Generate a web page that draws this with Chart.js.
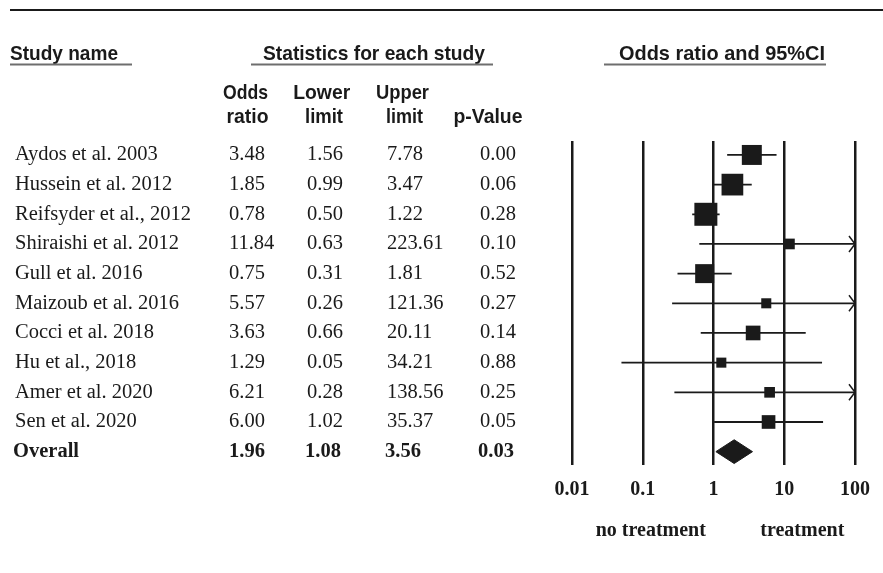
<!DOCTYPE html>
<html>
<head>
<meta charset="utf-8">
<script src="https://cdn.jsdelivr.net/npm/chart.js@4.4.1/dist/chart.umd.min.js"></script>
<style>
    html, body { margin: 0; padding: 0; background: #fff; }
</style>
</head>
<body>
<canvas id="forest" width="883" height="573"></canvas>
<script>
// values
var studies = ['Aydos et al. 2003', 'Hussein et al. 2012', 'Reifsyder et al., 2012', 'Shiraishi et al. 2012',
    'Gull et al. 2016', 'Maizoub et al. 2016', 'Cocci et al. 2018', 'Hu et al., 2018', 'Amer et al. 2020', 'Sen et al. 2020'];
var oddsRatio = [3.48, 1.85, 0.78, 11.84, 0.75, 5.57, 3.63, 1.29, 6.21, 6.00];
var lowerLimit = [1.56, 0.99, 0.50, 0.63, 0.31, 0.26, 0.66, 0.05, 0.28, 1.02];
var upperLimit = [7.78, 3.47, 1.22, 223.61, 1.81, 121.36, 20.11, 34.21, 138.56, 35.37];
var pValues = ['0.00', '0.06', '0.28', '0.10', '0.52', '0.27', '0.14', '0.88', '0.25', '0.05'];
// relative weight (%)
var weights = [15.4, 18.2, 20.4, 4.4, 13.9, 3.9, 8.3, 3.9, 4.4, 7.2];

var overallName = 'Overall';
var overallOR = 1.96;
var overallLower = 1.08;
var overallUpper = 3.56;
var overallP = '0.03';

var axisValues = [0.01, 0.1, 1, 10, 100];
var axisLabels = ['0.01', '0.1', '1', '10', '100'];
var sideLabels = ['no treatment', 'treatment'];
var sideValues = [0.13, 18];

var ink = '#1a1a1a';

function buildSquares() {
    var pts = [];
    var radios = [];
    for (let i = 0; i < studies.length; i++) {
        pts.push({ x: oddsRatio[i], y: i });
        // box side grows with sqrt(weight)
        radios.push(5.09 * Math.sqrt(weights[i]) / Math.SQRT2);
    }
    return { pts: pts, radios: radios };
}

function buildIntervals() {
    var pts = [];
    for (let i = 0; i < studies.length; i++) {
        pts.push({ x: lowerLimit[i], y: i });
        pts.push({ x: upperLimit[i], y: i });
        pts.push({ x: null, y: null });
    }
    return pts;
}

function buildDiamond() {
    var row = studies.length;
    return [
        { x: overallLower, y: row },
        { x: overallOR, y: row - 0.4 },
        { x: overallUpper, y: row },
        { x: overallOR, y: row + 0.4 },
        { x: overallLower, y: row }
    ];
}

function condensed(ctx, text, x, y, w, align) {
    ctx.textAlign = align || 'left';
    ctx.fillText(text, x, y, w);
}

var tablePlugin = {
    id: 'tabla',
    afterDraw: function (chart) {
        var ctx = chart.ctx;
        var ys = chart.scales.y;
        var xs = chart.scales.x;
        ctx.save();
        ctx.fillStyle = ink;
        ctx.textBaseline = 'alphabetic';

        // top rule
        ctx.fillRect(10, 9, 873, 2);

        // group headers
        ctx.font = 'bold 21px "Liberation Sans", Arial, sans-serif';
        condensed(ctx, 'Study name', 10, 60, 108);
        condensed(ctx, 'Statistics for each study', 263, 60, 222);
        condensed(ctx, 'Odds ratio and 95%CI', 619, 60, 206);
        ctx.fillStyle = '#6e6e6e';
        ctx.fillRect(10, 63.5, 122, 2);
        ctx.fillRect(251, 63.5, 242, 2);
        ctx.fillRect(604, 63.5, 222, 2);
        ctx.fillStyle = ink;

        // column headers
        condensed(ctx, 'Odds', 245.5, 99, 45, 'center');
        condensed(ctx, 'ratio', 247.5, 123, 42, 'center');
        condensed(ctx, 'Lower', 321.7, 99, 57, 'center');
        condensed(ctx, 'limit', 324, 123, 38, 'center');
        condensed(ctx, 'Upper', 402.5, 99, 53, 'center');
        condensed(ctx, 'limit', 404.5, 123, 37, 'center');
        condensed(ctx, 'p-Value', 488, 123, 69, 'center');

        // study rows
        ctx.textAlign = 'left';
        ctx.font = '20.5px "Liberation Serif", "Times New Roman", serif';
        for (let i = 0; i < studies.length; i++) {
            let yy = ys.getPixelForValue(i) + 5.5;
            ctx.fillText(studies[i], 15, yy);
            ctx.fillText(oddsRatio[i].toFixed(2), 229, yy);
            ctx.fillText(lowerLimit[i].toFixed(2), 307, yy);
            ctx.fillText(upperLimit[i].toFixed(2), 387, yy);
            ctx.fillText(pValues[i], 480, yy);
        }
        ctx.font = 'bold 20.5px "Liberation Serif", "Times New Roman", serif';
        let yo = ys.getPixelForValue(studies.length) + 5.5;
        ctx.fillText(overallName, 13, yo);
        ctx.fillText(overallOR.toFixed(2), 229, yo);
        ctx.fillText(overallLower.toFixed(2), 305, yo);
        ctx.fillText(overallUpper.toFixed(2), 385, yo);
        ctx.fillText(overallP, 478, yo);

        // favours labels under the axis
        ctx.textAlign = 'center';
        ctx.font = 'bold 20px "Liberation Serif", "Times New Roman", serif';
        for (let k = 0; k < sideLabels.length; k++) {
            ctx.fillText(sideLabels[k], xs.getPixelForValue(sideValues[k]), 536);
        }
        ctx.restore();
    },
    afterDatasetsDraw: function (chart) {
        // arrow heads where the interval runs past the axis
        var ctx = chart.ctx;
        var xs = chart.scales.x;
        var ys = chart.scales.y;
        var xr = xs.getPixelForValue(xs.max);
        ctx.save();
        ctx.strokeStyle = ink;
        ctx.lineWidth = 1.5;
        for (let i = 0; i < studies.length; i++) {
            if (upperLimit[i] > xs.max) {
                let yy = ys.getPixelForValue(i);
                ctx.beginPath();
                ctx.moveTo(xr - 6, yy - 8);
                ctx.lineTo(xr, yy);
                ctx.lineTo(xr - 6, yy + 8);
                ctx.stroke();
            }
        }
        ctx.restore();
    }
};

function drawForest() {
    var canvas = document.getElementById('forest');
    var sq = buildSquares();

    var chart = new Chart(canvas, {
        type: 'scatter',
        data: {
            datasets: [{
                label: 'Odds ratio',
                data: sq.pts,
                pointStyle: 'rect',
                pointRadius: sq.radios,
                pointHoverRadius: sq.radios,
                backgroundColor: ink,
                borderWidth: 0
            }, {
                type: 'line',
                label: '95% CI',
                data: buildIntervals(),
                borderColor: ink,
                borderWidth: 1.8,
                pointRadius: 0,
                tension: 0,
                spanGaps: false,
                fill: false
            }, {
                type: 'line',
                label: 'Overall',
                data: buildDiamond(),
                borderColor: ink,
                backgroundColor: ink,
                borderWidth: 1,
                pointRadius: 0,
                tension: 0,
                fill: 'shape'
            }]
        },
        options: {
            responsive: false,
            animation: false,
            events: [],
            layout: { padding: { left: 572, right: 27, top: 141, bottom: 68 } },
            plugins: {
                legend: { display: false },
                title: { display: false },
                tooltip: { enabled: false }
            },
            scales: {
                x: {
                    type: 'logarithmic',
                    position: 'bottom',
                    min: 0.01,
                    max: 100,
                    afterBuildTicks: function (eje) {
                        eje.ticks = axisValues.map(function (v) { return { value: v }; });
                    },
                    afterFit: function (eje) { eje.height = 40; },
                    grid: { color: ink, lineWidth: 2.5, drawTicks: false },
                    border: { display: false },
                    ticks: {
                        autoSkip: false,
                        maxRotation: 0,
                        padding: 13,
                        color: ink,
                        font: { family: '"Liberation Serif", "Times New Roman", serif', size: 20, weight: 'bold' },
                        callback: function (v) {
                            var k = axisValues.indexOf(v);
                            return k >= 0 ? axisLabels[k] : '';
                        }
                    }
                },
                y: {
                    type: 'linear',
                    reverse: true,
                    min: -0.47,
                    max: 10.45,
                    display: false
                }
            }
        },
        plugins: [tablePlugin]
    });
}

drawForest();
</script>
</body>
</html>
